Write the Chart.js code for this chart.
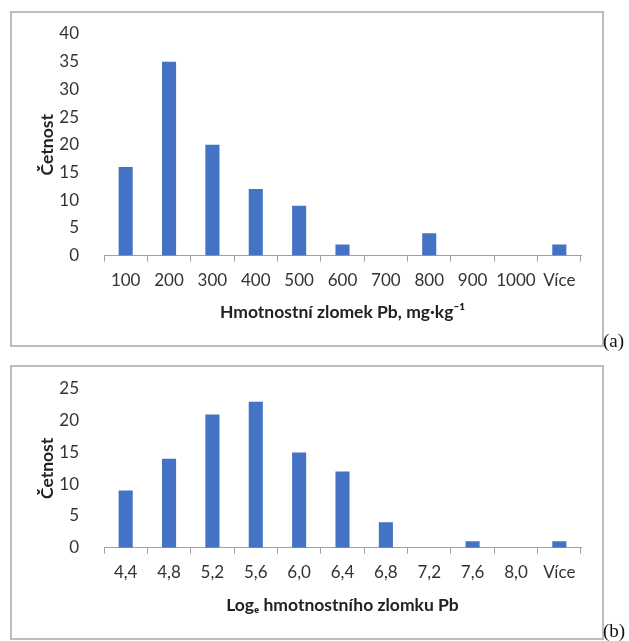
<!DOCTYPE html>
<html>
<head>
<meta charset="utf-8">
<script src="https://cdn.jsdelivr.net/npm/chart.js@4"></script>
<style>
  html, body { margin: 0; padding: 0; background: #ffffff; }
  body { width: 629px; height: 641px; position: relative; overflow: hidden; }
  .box { position: absolute; border: 2px solid #bdbdbd; box-sizing: border-box; }
  .cv { position: absolute; left: 0; }
  .tag { position: absolute; font-family: "Liberation Serif", "DejaVu Serif", serif; font-size: 19px; color: #111; line-height: 20px; }
</style>
</head>
<body>
<div class="box" style="left:10px;top:11px;width:594px;height:336px;"></div>
<div class="box" style="left:10px;top:365px;width:594px;height:275px;"></div>
<canvas id="ca" class="cv" style="top:0px;" width="629" height="360"></canvas>
<canvas id="cb" class="cv" style="top:360px;" width="629" height="281"></canvas>
<div class="tag" style="left:603px;top:331px;">(a)</div>
<div class="tag" style="left:603px;top:621px;">(b)</div>
<script>
// ---- data ----
const categoriesA = ["100", "200", "300", "400", "500", "600", "700", "800", "900", "1000", "Více"];
const countsA = [16, 35, 20, 12, 9, 2, 0, 4, 0, 0, 2];
const yTicksA = { min: 0, max: 40, step: 5 };
const xTitleA = "Hmotnostní zlomek Pb, mg·kg⁻¹";

const categoriesB = ["4,4", "4,8", "5,2", "5,6", "6,0", "6,4", "6,8", "7,2", "7,6", "8,0", "Více"];
const countsB = [9, 14, 21, 23, 15, 12, 4, 0, 1, 0, 1];
const yTicksB = { min: 0, max: 25, step: 5 };
const xTitleB = "Logₑ hmotnostního zlomku Pb";

const yTitle = "Četnost";

// ---- styles ----
const BAR = "#4472C4";
const AXIS = "#a0a0a0";
const TXT = "#333333";
const TITLE = "#222222";
const FONT = "Lato, 'Open Sans', sans-serif";

function makeChart(id, cats, vals, yt, xTitle, pad, xH) {
  return new Chart(document.getElementById(id), {
    type: "bar",
    data: {
      labels: cats,
      datasets: [{
        data: vals,
        backgroundColor: BAR,
        borderWidth: 0,
        barPercentage: 1,
        categoryPercentage: 0.325
      }]
    },
    options: {
      responsive: false,
      animation: false,
      devicePixelRatio: 1,
      layout: { padding: pad },
      plugins: { legend: { display: false }, tooltip: { enabled: false } },
      scales: {
        x: {
          offset: true,
          grid: { display: true, drawOnChartArea: false, drawTicks: true, tickLength: 6, color: AXIS, offset: true },
          border: { display: true, color: AXIS, width: 1 },
          ticks: { autoSkip: false, maxRotation: 0, minRotation: 0, padding: 9, color: TXT, font: { family: FONT, size: 17 } },
          title: { display: true, text: xTitle, color: TITLE, font: { family: FONT, size: 17.5, weight: "bold" }, padding: { top: 4, bottom: 7.5 } },
          afterFit: (s) => { s.height = xH; }
        },
        y: {
          min: yt.min, max: yt.max,
          grid: { display: false },
          border: { display: false },
          ticks: { stepSize: yt.step, padding: 17, color: TXT, font: { family: FONT, size: 17 } },
          title: { display: true, text: yTitle, color: TITLE, font: { family: FONT, size: 17.5, weight: "bold" }, padding: { top: 6.5, bottom: 0 } },
          afterFit: (s) => { s.width = 74; }
        }
      }
    }
  });
}

makeChart("ca", categoriesA, countsA, yTicksA, xTitleA, { left: 30, right: 48, top: 34, bottom: 30 }, 74.5);
makeChart("cb", categoriesB, countsB, yTicksB, xTitleB, { left: 30, right: 48, top: 29, bottom: 18 }, 75.3);
</script>
</body>
</html>
